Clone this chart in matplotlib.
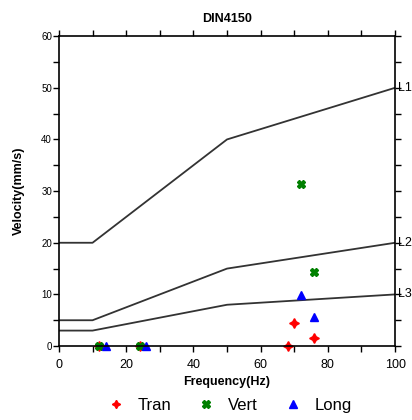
import matplotlib
matplotlib.use('Agg')
import matplotlib.pyplot as plt

plt.rcParams['font.family'] = ['Liberation Sans', 'DejaVu Sans']

# DIN4150 limit lines
line_freq = [0, 10, 50, 100]
l1_vel = [20, 20, 40, 50]
l2_vel = [5, 5, 15, 20]
l3_vel = [3, 3, 8, 10]
line_names = ['L1', 'L2', 'L3']

# measured points
tran_freq = [12, 24, 68, 70, 76]
tran_vel = [0, 0, 0, 4.5, 1.5]
vert_freq = [12, 24, 72, 76]
vert_vel = [0, 0, 31.3, 14.3]
long_freq = [14, 26, 72, 76]
long_vel = [0, 0, 9.8, 5.6]

fig = plt.figure(figsize=(4.12, 4.2), dpi=100)
ax = fig.add_axes([0.143, 0.176, 0.816, 0.738])

for v, name in zip([l1_vel, l2_vel, l3_vel], line_names):
    ax.plot(line_freq, v, color='#333333', lw=1.3)
    ax.text(100.9, v[-1], name, fontsize=9, va='center', ha='left', clip_on=False)

ax.plot(tran_freq, tran_vel, ls='none', marker=(4, 1, 0), color='red', ms=7, label='Tran', clip_on=False)
ax.plot(vert_freq, vert_vel, ls='none', marker='X', color='green', ms=6, label='Vert', clip_on=False)
ax.plot(long_freq, long_vel, ls='none', marker='^', color='blue', ms=6, label='Long', clip_on=False)

ax.set_xlim(0, 100)
ax.set_ylim(0, 60)
ax.set_xticks(range(0, 101, 20))
ax.set_xticks(range(0, 101, 10), minor=True)
ax.set_yticks(range(0, 61, 10))
ax.set_yticks(range(0, 61, 5), minor=True)
ax.tick_params(which='both', direction='out', top=True, right=True, length=4, width=1)
ax.tick_params(axis='y', labelsize=7, pad=1)
ax.tick_params(axis='x', labelsize=9, pad=5)
ax.tick_params(labelright=False, labeltop=False)
for s in ax.spines.values():
    s.set_linewidth(1.2)

ax.set_title('DIN4150', fontsize=9, fontweight='bold', pad=10)
ax.set_xlabel('Frequency(Hz)', fontsize=9, fontweight='bold', labelpad=4)
ax.set_ylabel('Velocity(mm/s)', fontsize=9, fontweight='bold', labelpad=12)

ax.legend(loc='upper center', bbox_to_anchor=(0.5, -0.13), ncol=3, frameon=False,
          fontsize=12, handletextpad=0.5, columnspacing=1.3, handlelength=1.6,
          markerscale=0.85, borderpad=0.2)

fig.savefig('out.png', dpi=100)
